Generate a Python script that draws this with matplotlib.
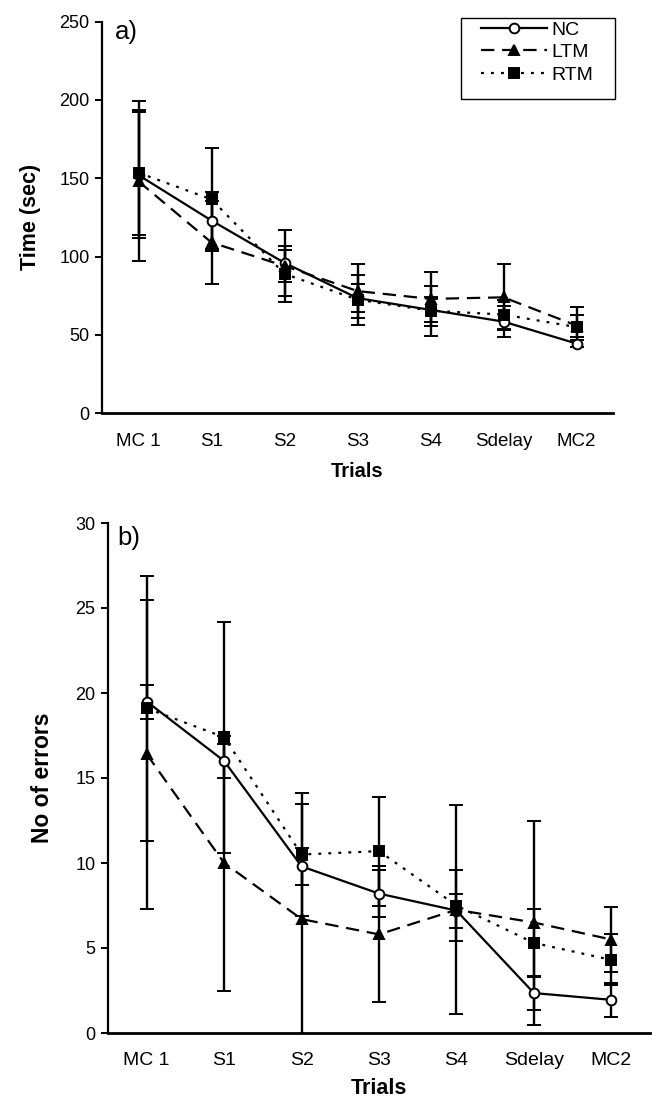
import matplotlib
matplotlib.use("Agg")
import matplotlib.pyplot as plt
from matplotlib.lines import Line2D
from matplotlib.patches import Rectangle
import numpy as np

plt.rcParams['font.family'] = ['Liberation Sans', 'DejaVu Sans']

trials = ["MC 1", "S1", "S2", "S3", "S4", "Sdelay", "MC2"]
groups = ["NC", "LTM", "RTM"]

# Panel a) Time (sec)
time_nc = [152, 123, 96, 73.5, 66, 58.5, 44.5]
time_nc_err = [40, 18, 21, 9, 8, 10, 2]
time_ltm = [148, 109, 94, 78, 73, 74, 56]
time_ltm_err = [51, 26.5, 10, 17, 17, 21, 7]
time_rtm = [153.5, 136.5, 89, 72.5, 65.5, 63, 55]
time_rtm_err = [40, 33, 18, 16, 16, 9, 12.6]

# Panel b) No of errors
err_nc = [19.5, 16.0, 9.8, 8.2, 7.2, 2.35, 1.95]
err_nc_err = [1.0, 1.0, 1.1, 1.4, 1.0, 1.0, 1.0]
err_ltm = [16.4, 10.0, 6.7, 5.8, 7.25, 6.5, 5.5]
err_ltm_err = [9.1, 7.5, 6.8, 4.0, 6.15, 6.0, 1.9]
err_rtm = [19.1, 17.4, 10.5, 10.7, 7.5, 5.3, 4.3]
err_rtm_err = [7.8, 6.8, 3.6, 3.2, 2.1, 2.0, 1.5]

styles = {
    "NC": dict(linestyle='-', marker='o', mfc='white', ms=7),
    "LTM": dict(linestyle=(0, (6, 3.5)), marker='^', mfc='black', ms=7.5),
    "RTM": dict(linestyle=(0, (1.3, 3.2)), marker='s', mfc='black', ms=7),
}

fig = plt.figure(figsize=(6.52, 11.02), dpi=100)
ax1 = fig.add_axes([102/652, 1-413.3/1102, 511/652, (413.3-21.5)/1102])
ax2 = fig.add_axes([108/652, 1-1033/1102, 542/652, (1033-523)/1102])

x = np.arange(len(trials))

def draw(ax, data, xfs, lblfs, lblpad):
    for g, (vals, errs) in zip(groups, data):
        st = styles[g]
        ax.errorbar(x, vals, yerr=errs, color='black', lw=1.6,
                    linestyle=st['linestyle'], marker=st['marker'],
                    mfc=st['mfc'], mec='black', mew=1.4, ms=st['ms'],
                    ecolor='black', elinewidth=1.7, capsize=5, capthick=1.7,
                    label=g, zorder=3)
    ax.set_xlim(-0.5, 6.5)
    ax.set_xticks(x)
    ax.set_xticklabels(trials, fontsize=xfs)
    ax.tick_params(axis='x', length=0, pad=14)
    ax.tick_params(axis='y', length=5, width=1.4, direction='out', labelsize=13, pad=4)
    for s in ['top', 'right']:
        ax.spines[s].set_visible(False)
    ax.spines['left'].set_linewidth(1.6)
    ax.spines['bottom'].set_linewidth(2.0)
    ax.set_xlabel("Trials", fontsize=lblfs, fontweight='bold', labelpad=lblpad)

draw(ax1, [(time_nc, time_nc_err), (time_ltm, time_ltm_err), (time_rtm, time_rtm_err)], 13.5, 14.5, 9)
ax1.set_ylim(0, 250)
ax1.set_yticks([0, 50, 100, 150, 200, 250])
ax1.set_ylabel("Time (sec)", fontsize=15.5, fontweight='bold')
ax1.yaxis.set_label_coords(-0.12, 0.5)
ax1.text(0.025, 1.005, "a)", transform=ax1.transAxes, fontsize=18.5, va='top', ha='left')

# legend with proxy handles (no error bars)
handles = [Line2D([], [], color='black', lw=1.6, linestyle=styles[g]['linestyle'],
                  marker=styles[g]['marker'], mfc=styles[g]['mfc'], mec='black',
                  mew=1.4, ms=styles[g]['ms']) for g in groups]
fig.legend(handles=handles, labels=groups, loc='upper left',
           bbox_to_anchor=(481/652, 1-21/1102), fontsize=14,
           frameon=False, handlelength=3.4, handletextpad=0.2, borderpad=0,
           labelspacing=0.25, borderaxespad=0)
fig.patches.append(Rectangle((461/652, 1-99/1102), 154/652, 81/1102,
                             transform=fig.transFigure, fill=False,
                             edgecolor='black', lw=1.0))

draw(ax2, [(err_nc, err_nc_err), (err_ltm, err_ltm_err), (err_rtm, err_rtm_err)], 14, 15.5, 6)
ax2.set_ylim(0, 30)
ax2.set_yticks([0, 5, 10, 15, 20, 25, 30])
ax2.set_ylabel("No of errors", fontsize=16.5, fontweight='bold')
ax2.yaxis.set_label_coords(-0.1, 0.5)
ax2.text(0.018, 0.995, "b)", transform=ax2.transAxes, fontsize=18.5, va='top', ha='left')

fig.savefig("out.png", dpi=100)
